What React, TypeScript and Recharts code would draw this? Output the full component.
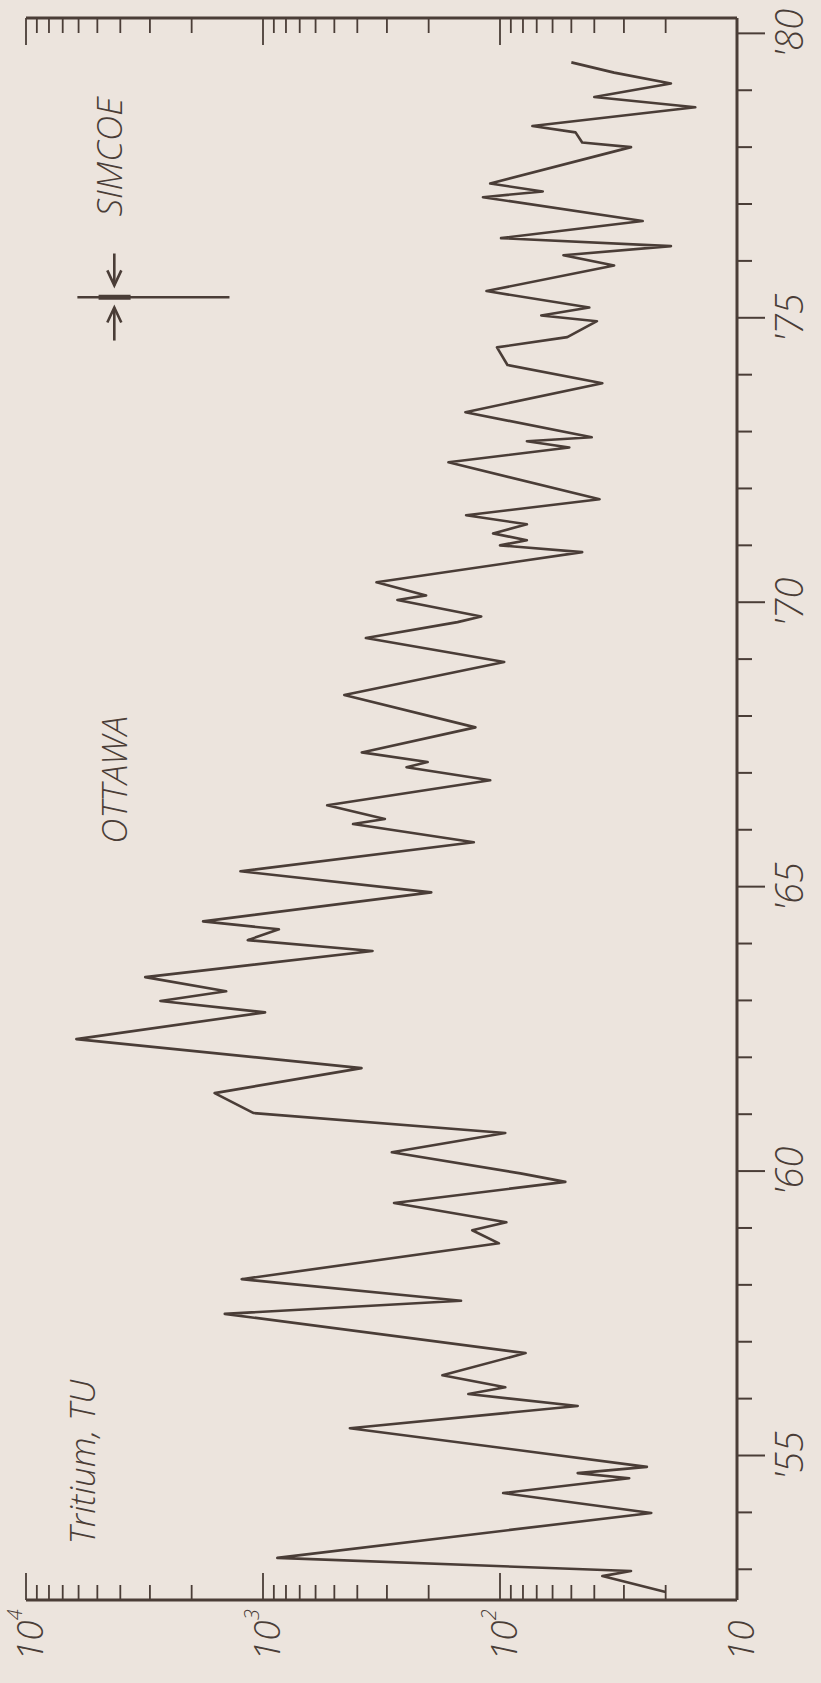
import React from "react";
import { LineChart, Line, XAxis, YAxis, ReferenceLine } from "recharts";

// Ottawa precipitation tritium (TU) vs. year
const years = [
  1952.6, 1952.88, 1952.97, 1953.2, 1953.99, 1954.34, 1954.6, 1954.69, 1954.8,
  1955.48, 1955.87, 1956.08, 1956.2, 1956.41, 1956.8, 1957.49, 1957.72, 1958.1,
  1958.73, 1958.96, 1959.1, 1959.44, 1959.81, 1959.96, 1960.33, 1960.67, 1961.02,
  1961.37, 1961.81, 1962.32, 1962.79, 1962.99, 1963.16, 1963.41, 1963.87, 1964.06,
  1964.25, 1964.39, 1964.9, 1965.27, 1965.78, 1966.1, 1966.19, 1966.43, 1966.87,
  1967.1, 1967.19, 1967.36, 1967.8, 1968.37, 1968.95, 1969.37, 1969.65, 1969.75,
  1970.04, 1970.12, 1970.35, 1970.88, 1971.0, 1971.09, 1971.21, 1971.37, 1971.53,
  1971.81, 1972.46, 1972.72, 1972.83, 1972.9, 1973.34, 1973.85, 1974.17, 1974.48,
  1974.66, 1974.94, 1975.04, 1975.18, 1975.47, 1975.92, 1976.1, 1976.26, 1976.4,
  1976.7, 1977.12, 1977.22, 1977.36, 1978.0, 1978.08, 1978.26, 1978.37, 1978.7,
  1978.88, 1979.12, 1979.31, 1979.49,
];
const tritium = [
  20, 37, 28, 870, 23, 97, 28.5, 47, 24,
  430, 47, 136, 95, 175, 78, 1450, 146, 1230,
  101, 131, 94, 280, 53, 82, 286, 95, 1095,
  1600, 384, 6130, 980, 2710, 1430, 3140, 345, 1160,
  857, 1790, 195, 1245, 129, 417, 306, 536, 110,
  248, 202, 383, 127, 454, 96, 368, 151, 120,
  271, 205, 332, 45, 100, 77, 107, 77, 139,
  38, 165, 51, 77, 41, 140, 37, 93, 103,
  52, 39, 67, 42, 114, 33, 54, 19, 99,
  25, 118, 66, 110, 28, 45, 48, 73, 15,
  40, 19, 33, 50,
];

const yearTicks = [
  1953, 1954, 1955, 1956, 1957, 1958, 1959, 1960, 1961, 1962, 1963, 1964, 1965, 1966,
  1967, 1968, 1969, 1970, 1971, 1972, 1973, 1974, 1975, 1976, 1977, 1978, 1979, 1980,
];
const yearLabelValues = [1955, 1960, 1965, 1970, 1975, 1980];
const yearLabels = ["'55", "'60", "'65", "'70", "'75", "'80"];

const tritiumTicks = [
  10, 20, 30, 40, 50, 60, 70, 80, 90,
  100, 200, 300, 400, 500, 600, 700, 800, 900,
  1000, 2000, 3000, 4000, 5000, 6000, 7000, 8000, 9000, 10000,
];
const decadeValues = [10, 100, 1000, 10000];
const decadeBase = ["10", "10", "10", "10"];
const decadeExponent = ["", "2", "3", "4"];

// Simcoe marker (data coordinates)
const simcoeYear = 1975.36;
const simcoeRange = [6070, 1385];
const simcoeMark = [4940, 3620];
const simcoeArrowT = 4240;
const simcoeArrowDown = [1976.13, 1975.57];
const simcoeArrowUp = [1974.6, 1975.18];

const data = years.map((y, i) => ({ year: y, tritium: tritium[i] }));

const INK = "#4a3d37";
const BG = "#ece4dd";
const FONT = "'Open Sans', 'DejaVu Sans', sans-serif";
const YEAR_DOMAIN: [number, number] = [1952.46, 1980.27];

const isDecade = (v: number) => Math.abs(Math.log10(v) - Math.round(Math.log10(v))) < 1e-6;

const BottomTick = (props: any) => {
  const { x, y, payload } = props;
  const v = payload.value;
  const major = isDecade(v);
  const di = decadeValues.findIndex((d) => Math.abs(d - v) < 1e-6);
  return (
    <g>
      <line x1={x} x2={x} y1={y} y2={y - (major ? 27 : 15)} stroke={INK} strokeWidth={1.8} />
      {di >= 0 && (
        <text
          transform={`translate(${x + 2},${y + 61}) rotate(-90)`}
          textAnchor="start"
          dominantBaseline="central"
          fontFamily={FONT}
          fontStyle="italic"
          fontWeight={300}
          fontSize={37}
          fill={INK}
        >
          {decadeBase[di]}
          {decadeExponent[di] && (
            <tspan fontSize={20} dy={-14}>
              {decadeExponent[di]}
            </tspan>
          )}
        </text>
      )}
    </g>
  );
};

const TopTick = (props: any) => {
  const { x, y, payload } = props;
  const major = isDecade(payload.value);
  return <line x1={x} x2={x} y1={y} y2={y + (major ? 27 : 15)} stroke={INK} strokeWidth={1.8} />;
};

const YearTick = (props: any) => {
  const { x, y, payload } = props;
  const v = payload.value;
  const li = yearLabelValues.indexOf(v);
  const major = li >= 0;
  return (
    <g>
      <line x1={x} x2={x + (major ? 28 : 15)} y1={y} y2={y} stroke={INK} strokeWidth={2} />
      {major && (
        <text
          transform={`translate(${x + 51},${y}) rotate(-90)`}
          textAnchor="middle"
          dominantBaseline="central"
          fontFamily={FONT}
          fontStyle="italic"
          fontWeight={300}
          fontSize={38}
          fill={INK}
        >
          {yearLabels[li]}
        </text>
      )}
    </g>
  );
};

const ArrowShape = (p: any) => {
  const { x1, y1, x2, y2 } = p;
  const dir = Math.sign(y2 - y1) || 1;
  return (
    <g>
      <line x1={x1} y1={y1} x2={x2} y2={y2} stroke={INK} strokeWidth={2.6} />
      <polyline
        points={`${x2 - 7},${y2 - dir * 15} ${x2},${y2} ${x2 + 7},${y2 - dir * 15}`}
        fill="none"
        stroke={INK}
        strokeWidth={2.6}
      />
    </g>
  );
};

const Annotation = ({ x, y, text }: { x: number; y: number; text: string }) => (
  <text
    transform={`translate(${x},${y}) rotate(-90)`}
    textAnchor="middle"
    dominantBaseline="central"
    fontFamily={FONT}
    fontStyle="italic"
    fontWeight={300}
    fontSize={35}
    fill={INK}
  >
    {text}
  </text>
);

export default function App() {
  return (
    <div style={{ position: "absolute", left: 0, top: 0, width: 821, height: 1683, background: BG }}>
      <LineChart
        width={821}
        height={1683}
        layout="vertical"
        data={data}
        margin={{ top: 0, right: 0, bottom: 0, left: 26 }}
      >
        <XAxis
          xAxisId="b"
          type="number"
          scale="log"
          domain={[10, 10000]}
          reversed
          allowDataOverflow
          orientation="bottom"
          height={83}
          ticks={tritiumTicks}
          interval={0}
          tickSize={0}
          tickMargin={0}
          tickLine={false}
          axisLine={{ stroke: INK, strokeWidth: 3 }}
          tick={BottomTick}
          dataKey="tritium"
        />
        <XAxis
          xAxisId="t"
          type="number"
          scale="log"
          domain={[10, 10000]}
          reversed
          allowDataOverflow
          orientation="top"
          height={18}
          ticks={tritiumTicks}
          interval={0}
          tickSize={0}
          tickMargin={0}
          tickLine={false}
          axisLine={{ stroke: INK, strokeWidth: 3 }}
          tick={TopTick}
          dataKey="tritium"
        />
        <YAxis
          yAxisId="r"
          type="number"
          dataKey="year"
          domain={YEAR_DOMAIN}
          reversed
          allowDataOverflow
          orientation="right"
          width={84}
          ticks={yearTicks}
          interval={0}
          tickSize={0}
          tickMargin={0}
          tickLine={false}
          axisLine={{ stroke: INK, strokeWidth: 3 }}
          tick={YearTick}
        />
        <YAxis
          yAxisId="l"
          type="number"
          dataKey="year"
          domain={YEAR_DOMAIN}
          reversed
          allowDataOverflow
          orientation="left"
          width={0}
          tick={false}
          tickLine={false}
          axisLine={{ stroke: INK, strokeWidth: 3 }}
        />
        <ReferenceLine
          xAxisId="b"
          yAxisId="r"
          ifOverflow="visible"
          segment={[
            { x: simcoeRange[0], y: simcoeYear },
            { x: simcoeRange[1], y: simcoeYear },
          ]}
          stroke={INK}
          strokeWidth={2.4}
        />
        <ReferenceLine
          xAxisId="b"
          yAxisId="r"
          ifOverflow="visible"
          segment={[
            { x: simcoeMark[0], y: simcoeYear },
            { x: simcoeMark[1], y: simcoeYear },
          ]}
          stroke={INK}
          strokeWidth={5}
        />
        <ReferenceLine
          xAxisId="b"
          yAxisId="r"
          ifOverflow="visible"
          segment={[
            { x: simcoeArrowT, y: simcoeArrowDown[0] },
            { x: simcoeArrowT, y: simcoeArrowDown[1] },
          ]}
          shape={ArrowShape}
        />
        <ReferenceLine
          xAxisId="b"
          yAxisId="r"
          ifOverflow="visible"
          segment={[
            { x: simcoeArrowT, y: simcoeArrowUp[0] },
            { x: simcoeArrowT, y: simcoeArrowUp[1] },
          ]}
          shape={ArrowShape}
        />
        <Line
          xAxisId="b"
          yAxisId="r"
          dataKey="tritium"
          type="linear"
          stroke={INK}
          strokeWidth={2.6}
          strokeLinejoin="round"
          dot={false}
          activeDot={false}
          isAnimationActive={false}
        />
      </LineChart>
      <svg
        width={821}
        height={1683}
        style={{ position: "absolute", left: 0, top: 0, pointerEvents: "none" }}
      >
        <Annotation x={108} y={157} text="SIMCOE" />
        <Annotation x={113} y={780} text="OTTAWA" />
        <Annotation x={81} y={1462} text="Tritium, TU" />
      </svg>
    </div>
  );
}
